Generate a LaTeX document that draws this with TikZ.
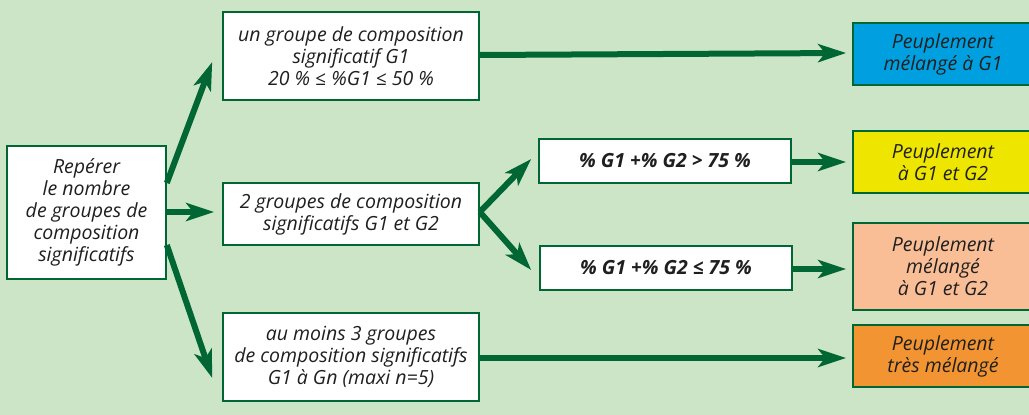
\documentclass[tikz,border=0pt]{standalone}
\usepackage{fontspec}
\setmainfont{Open Sans}
\usetikzlibrary{arrows.meta}
\definecolor{bg}{RGB}{204,229,198}
\definecolor{dkgreen}{RGB}{0,102,51}
\definecolor{pblue}{RGB}{0,160,224}
\definecolor{pyellow}{RGB}{238,230,0}
\definecolor{ppeach}{RGB}{249,190,150}
\definecolor{porange}{RGB}{243,148,51}
\tikzset{
  box/.style={draw=dkgreen, line width=1.6pt, fill=white, align=center,
    inner sep=0pt, font=\fontsize{19.5}{22}\selectfont\itshape, text=black!88},
  result/.style={box, minimum width=180pt},
  flow/.style={draw=dkgreen, line width=6pt,
    -{Stealth[length=28pt, width=18pt, inset=7pt]}},
  shortflow/.style={flow, line width=5.5pt}
}
\begin{document}
\begin{tikzpicture}[x=1pt, y=-1pt]
  \useasboundingbox (0,0) rectangle (1029,415);
  \fill[bg] (0,0) rectangle (1029,415);
  \begin{scope}
  \clip (0,0) rectangle (1029,415);
  % first column
  \node[box, minimum width=159pt, minimum height=133pt] (rep) at (86.5,212.5)
    {Repérer\\le nombre\\de groupes de\\composition\\significatifs};
  % second column
  \node[box, minimum width=256pt, minimum height=88pt] (one) at (351,56)
    {un groupe de composition\\significatif G1\\20 \% ≤ \%G1 ≤ 50 \%};
  \node[box, minimum width=256pt, minimum height=62pt] (two) at (351,214)
    {2 groupes de composition\\significatifs G1 et G2};
  \node[box, minimum width=256pt, minimum height=88pt] (three) at (351,357)
    {au moins 3 groupes\\de composition significatifs\\G1 à Gn (maxi n=5)};
  % thresholds for two groups
  \node[box, font=\fontsize{19.5}{22}\selectfont\bfseries\itshape,
    minimum width=252pt, minimum height=44pt] (gt) at (665,161)
    {\% G1 +\% G2 > 75 \%};
  \node[box, font=\fontsize{19.5}{22}\selectfont\bfseries\itshape,
    minimum width=252pt, minimum height=44pt] (le) at (666,268)
    {\% G1 +\% G2 ≤ 75 \%};
  % resulting stand types
  \node[result, fill=pblue, minimum height=62pt] (mixone) at (943,54)
    {Peuplement\\mélangé à G1};
  \node[result, fill=pyellow, minimum height=62pt] (pure) at (943,162)
    {Peuplement\\à G1 et G2};
  \node[result, fill=ppeach, minimum height=87pt] (mixtwo) at (943,266.5)
    {Peuplement\\mélangé\\à G1 et G2};
  \node[result, fill=porange, minimum height=62pt] (very) at (943,356)
    {Peuplement\\très mélangé};
  \end{scope}
  % connectors
  \draw[flow] ([yshift=29.5pt]rep.east) -- ([xshift=-10pt,yshift=-6pt]one.west);
  \draw[shortflow] ([yshift=0.5pt]rep.east) -- ([xshift=-8pt,yshift=2pt]two.west);
  \draw[flow] ([yshift=-32.5pt]rep.east) -- ([xshift=-10pt,yshift=-21pt]three.west);
  \draw[flow] ([yshift=2pt]two.east) -- ([xshift=-7pt,yshift=2pt]gt.west);
  \draw[flow] ([yshift=2pt]two.east) -- ([xshift=-8pt,yshift=-2pt]le.west);
  \draw[flow] ([yshift=1pt]one.east) -- ([xshift=-6pt,yshift=1pt]mixone.west);
  \draw[flow] ([yshift=-1pt]gt.east) -- ([xshift=-6pt]pure.west);
  \draw[flow] ([yshift=-1pt]le.east) -- ([xshift=-6pt,yshift=-2.5pt]mixtwo.west);
  \draw[flow] ([yshift=-1pt]three.east) -- ([xshift=-6pt,yshift=-2pt]very.west);
\end{tikzpicture}
\end{document}
